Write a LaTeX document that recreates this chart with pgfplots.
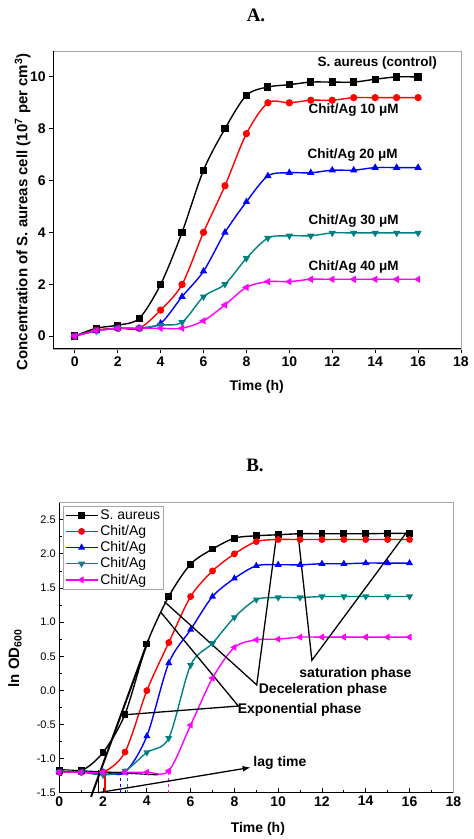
\documentclass[border=0pt]{standalone}
\usepackage{pgfplots}
\pgfplotsset{compat=1.18}
\usepackage{fontspec}
\setmainfont{Liberation Sans}
\newfontfamily\titlefont{Liberation Serif}
\usetikzlibrary{arrows.meta}
\definecolor{cteal}{RGB}{0,128,128}
\definecolor{cred}{RGB}{255,0,0}
\definecolor{cblue}{RGB}{0,0,255}
\definecolor{cmag}{RGB}{255,0,255}
\begin{document}
\begin{tikzpicture}
\useasboundingbox (0pt,0pt) rectangle (474pt,839pt);
% titles
\node[font=\titlefont\bfseries\fontsize{19}{21}\selectfont] at (256pt,824pt) {A.};
\node[font=\titlefont\bfseries\fontsize{19}{21}\selectfont] at (255pt,374pt) {B.};

% ---------------- Chart A ----------------
\begin{axis}[
  at={(53.3pt,490pt)}, anchor=south west,
  scale only axis, width=407.7pt, height=298pt,
  xmin=-1, xmax=18, ymin=-0.5, ymax=11,
  xtick={0,2,...,18}, ytick={0,2,...,10},
  tick align=outside, tick pos=left,
  major tick length=4pt,
  /pgf/number format/assume math mode=true,
  ticklabel style={font=\bfseries\fontsize{14}{16}\selectfont},
  axis line style={gray!70, line width=0.8pt},
  every tick/.style={black, line width=0.9pt},
  clip=false,
  xlabel={Time (h)},
  xlabel style={font=\bfseries\fontsize{14}{16}\selectfont, at={(axis description cs:0.499,-0.1275)}, anchor=center},
  ylabel={Concentration of S. aureas cell (10\textsuperscript{7} per cm\textsuperscript{3})},
  ylabel style={font=\bfseries\fontsize{15}{17}\selectfont, at={(axis description cs:-0.075,0.46)}, anchor=center},
  every axis plot/.append style={line width=1.4pt, mark size=2.9pt},
]
\addplot[black, smooth, tension=0.5, mark=square*] coordinates {
(0,0) (1,0.3) (2,0.42) (3,0.68) (4,1.99) (5,4.0) (6,6.4) (7,8.0) (8,9.29) (9,9.61) (10,9.7) (11,9.8) (12,9.8) (13,9.8) (14,9.91) (15,10) (16,10)};
\addplot[cred, smooth, tension=0.5, mark=*] coordinates {
(0,0) (1,0.23) (2,0.3) (3,0.3) (4,1.0) (5,1.99) (6,4.0) (7,5.8) (8,7.81) (9,9.0) (10,9.0) (11,9.1) (12,9.1) (13,9.2) (14,9.2) (15,9.2) (16,9.2)};
\addplot[cblue, smooth, tension=0.5, mark=triangle*] coordinates {
(0,0) (1,0.2) (2,0.3) (3,0.3) (4,0.49) (5,1.52) (6,2.5) (7,4.0) (8,5.18) (9,6.18) (10,6.3) (11,6.3) (12,6.4) (13,6.4) (14,6.5) (15,6.5) (16,6.5)};
\addplot[cteal, smooth, tension=0.5, mark=triangle*, mark options={rotate=180}] coordinates {
(0,0) (1,0.2) (2,0.3) (3,0.3) (4,0.42) (5,0.53) (6,1.52) (7,2.0) (8,3.0) (9,3.78) (10,3.87) (11,3.87) (12,3.98) (13,3.98) (14,3.98) (15,3.98) (16,3.98)};
\addplot[cmag, smooth, tension=0.5, mark=triangle*, mark options={rotate=90}] coordinates {
(0,0) (1,0.2) (2,0.3) (3,0.3) (4,0.3) (5,0.3) (6,0.59) (7,1.2) (8,1.88) (9,2.1) (10,2.1) (11,2.19) (12,2.19) (13,2.19) (14,2.19) (15,2.19) (16,2.19)};
\draw[black, line width=1pt] (rel axis cs:0,1) -- (rel axis cs:0,0) -- (rel axis cs:1,0);
\begin{scope}[font=\bfseries\fontsize{13.5}{15}\selectfont]
\node at (axis cs:14.1,10.53) {S. aureus (control)};
\node at (axis cs:13.0,8.72) {Chit/Ag 10 μM};
\node at (axis cs:12.95,6.98) {Chit/Ag 20 μM};
\node at (axis cs:13.0,4.43) {Chit/Ag 30 μM};
\node at (axis cs:13.0,2.66) {Chit/Ag 40 μM};
\end{scope}
\end{axis}

% ---------------- Chart B ----------------
\begin{axis}[
  at={(59.3pt,46.3pt)}, anchor=south west,
  scale only axis, width=394pt, height=290pt,
  xmin=0, xmax=18, ymin=-1.5, ymax=2.75,
  xtick={0,2,...,18}, ytick={-1.5,-1,...,2.5},
  minor x tick num=1, minor y tick num=1,
  tick align=inside, tick pos=left,
  major tick length=5pt, minor tick length=3pt,
  /pgf/number format/assume math mode=true,
  yticklabel style={font=\fontsize{11}{12}\selectfont, /pgf/number format/.cd, fixed, fixed zerofill, precision=1},
  xticklabel style={font=\bfseries\fontsize{14}{16}\selectfont},
  axis line style={gray!70, line width=0.8pt},
  every tick/.style={black, line width=0.8pt},
  clip=false,
  xlabel={Time (h)},
  xlabel style={font=\bfseries\fontsize{14}{16}\selectfont, at={(axis description cs:0.504,-0.126)}, anchor=center},
  ylabel={ln OD\textsubscript{600}},
  ylabel style={font=\bfseries\fontsize{15}{17}\selectfont, at={(axis description cs:-0.1124,0.463)}, anchor=center},
  every axis plot/.append style={line width=1.4pt, mark size=2.7pt},
  legend style={at={(axis description cs:0.0094,0.989)}, anchor=north west, draw=gray!70, line width=0.8pt,
    font=\fontsize{14}{16}\selectfont, inner sep=1.5pt, row sep=0.5pt, cells={anchor=west}},
  legend image code/.code={\draw[mark repeat=2,mark phase=2,#1] plot coordinates {(0pt,0pt) (16pt,0pt) (32pt,0pt)};},
]
\addplot[black, smooth, tension=0.5, mark=square*] coordinates {
(0,-1.18) (1,-1.18) (2,-0.91) (3,-0.35) (4,0.68) (5,1.375) (6,1.85) (7,2.07) (8,2.23) (9,2.265) (10,2.28) (11,2.295) (12,2.295) (13,2.295) (14,2.295) (15,2.3) (16,2.3)};
\addlegendentry{S. aureus}
\addplot[cred, smooth, tension=0.5, mark=*] coordinates {
(0,-1.2) (1,-1.2) (2,-1.2) (3,-0.905) (4,-0.004) (5,0.70) (6,1.375) (7,1.75) (8,2.0) (9,2.18) (10,2.21) (11,2.21) (12,2.21) (13,2.21) (14,2.21) (15,2.21) (16,2.21)};
\addlegendentry{Chit/Ag}
\addplot[cblue, smooth, tension=0.5, mark=triangle*] coordinates {
(0,-1.2) (1,-1.2) (2,-1.2) (3,-1.2) (4,-0.67) (5,0.40) (6,0.89) (7,1.375) (8,1.64) (9,1.825) (10,1.84) (11,1.84) (12,1.855) (13,1.855) (14,1.865) (15,1.865) (16,1.865)};
\addlegendentry{Chit/Ag}
\addplot[cteal, smooth, tension=0.5, mark=triangle*, mark options={rotate=180}] coordinates {
(0,-1.2) (1,-1.2) (2,-1.24) (3,-1.18) (4,-0.91) (5,-0.70) (6,0.37) (7,0.69) (8,1.07) (9,1.33) (10,1.36) (11,1.36) (12,1.375) (13,1.375) (14,1.375) (15,1.375) (16,1.375)};
\addlegendentry{Chit/Ag}
\addplot[cmag, smooth, tension=0.5, mark=triangle*, mark options={rotate=90}] coordinates {
(0,-1.2) (1,-1.2) (2,-1.2) (3,-1.2) (4,-1.2) (5,-1.18) (6,-0.51) (7,0.18) (8,0.63) (9,0.74) (10,0.75) (11,0.78) (12,0.78) (13,0.78) (14,0.78) (15,0.78) (16,0.78)};
\addlegendentry{Chit/Ag}
\draw[black, line width=1pt] (rel axis cs:0,1) -- (rel axis cs:0,0) -- (rel axis cs:1,0);
% lag markers
\draw[black, line width=1.2pt] (axis cs:1.78,-1.17) -- (axis cs:1.78,-1.5);
\draw[cred, line width=1.2pt] (axis cs:2.09,-1.2) -- (axis cs:2.09,-1.5);
\draw[cblue, line width=1.2pt, dashed] (axis cs:2.8,-1.2) -- (axis cs:2.8,-1.5);
\draw[cteal, line width=1.2pt, dashed] (axis cs:3.1,-1.2) -- (axis cs:3.1,-1.5);
\draw[cmag, line width=1.2pt, dashed] (axis cs:4.98,-1.2) -- (axis cs:4.98,-1.5);
\draw[black, line width=1.1pt] (axis cs:0,-1.16) -- (axis cs:4.52,-1.24);
% tangent
\draw[black, line width=2pt] (axis cs:1.45,-1.56) -- (axis cs:4.07,0.74);
% annotation lines
\begin{scope}[black, line width=1.3pt]
\draw (axis cs:10.9,2.31) -- (axis cs:11.54,0.44) -- (axis cs:15.9,2.33);
\draw (axis cs:9.93,2.28) -- (axis cs:9.02,0.08) -- (axis cs:4.8,1.30);
\draw (axis cs:4.65,1.14) -- (axis cs:8.18,-0.23) -- (axis cs:2.9,-0.36);
\draw[-{Latex[length=8pt,width=6pt]}] (axis cs:1.78,-1.5) -- (axis cs:8.74,-1.13);
\end{scope}
\begin{scope}[font=\bfseries\fontsize{14}{16}\selectfont]
\node at (axis cs:13.53,0.242) {saturation phase};
\node at (axis cs:12.05,0.007) {Deceleration phase};
\node at (axis cs:10.98,-0.286) {Exponential phase};
\node at (axis cs:10.08,-1.068) {lag time};
\end{scope}
\end{axis}
\end{tikzpicture}
\end{document}
